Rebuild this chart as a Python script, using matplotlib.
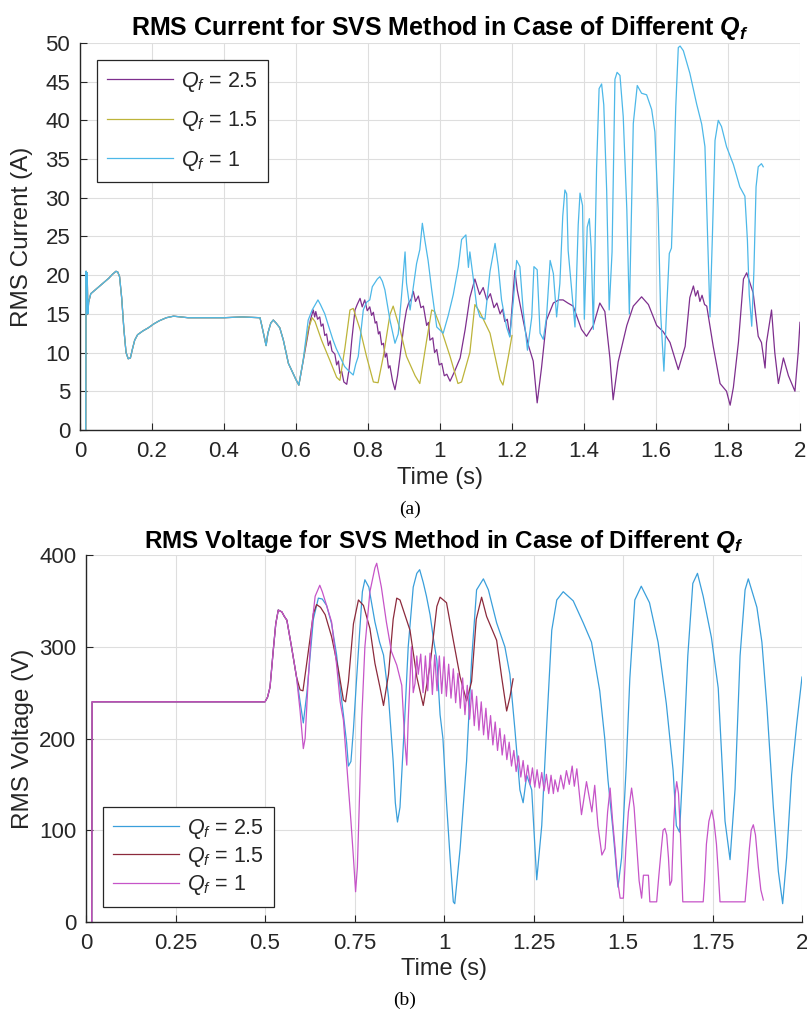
"""
RMS current / RMS voltage for the SVS method with different Q_f values.
Two stacked panels, (a) current and (b) voltage, MATLAB-like styling.
"""

import matplotlib

matplotlib.use("Agg")
import matplotlib.pyplot as plt

# --- Palette ---
INK = "#262626"
GRID = "#dedede"
CUR_COLORS = ["#7e2f8e", "#bdb43a", "#4db8e8"]
VOLT_COLORS = ["#3a9fdb", "#8c2a3c", "#c654c8"]
SERIES_LABELS = ["$Q_f$ = 2.5", "$Q_f$ = 1.5", "$Q_f$ = 1"]

# --- (a) RMS current, shared start (all three Q_f overlap until ~0.61 s) ---
cur_t_common = [
    0.016, 0.017, 0.019, 0.020, 0.022, 0.024, 0.03, 0.04, 0.05, 0.06,
    0.07, 0.08, 0.09, 0.1, 0.105, 0.11, 0.116, 0.122, 0.128, 0.134,
    0.14, 0.146, 0.152, 0.16, 0.175, 0.19, 0.205, 0.22, 0.24, 0.26,
    0.3, 0.35, 0.4, 0.45, 0.5, 0.505, 0.512, 0.517, 0.522, 0.53,
    0.537, 0.545, 0.555, 0.565, 0.579, 0.592, 0.6, 0.608,
]
cur_i_common = [
    0, 20.5, 15, 20.3, 15, 16.5, 17.6, 18, 18.4, 18.8,
    19.2, 19.6, 20.1, 20.5, 20.4, 19.8, 17, 13, 10, 9.2,
    9.3, 10.5, 11.6, 12.3, 12.8, 13.2, 13.7, 14.1, 14.5, 14.7,
    14.5, 14.5, 14.5, 14.6, 14.5, 13.5, 12, 10.9, 12.5, 13.8,
    14.2, 13.8, 13.2, 11.6, 8.6, 7.3, 6.5, 5.8,
]

# Q_f = 2.5
cur_t_q25 = [
    0.63, 0.64, 0.648, 0.652, 0.655, 0.66, 0.666, 0.67, 0.675, 0.68,
    0.685, 0.69, 0.695, 0.7, 0.708, 0.713, 0.718, 0.722, 0.727, 0.733,
    0.741, 0.748, 0.755, 0.76, 0.764, 0.77, 0.778, 0.784, 0.791, 0.798,
    0.805, 0.81, 0.815, 0.82, 0.824, 0.829, 0.833, 0.838, 0.843, 0.848,
    0.852, 0.857, 0.861, 0.868, 0.875, 0.882, 0.889, 0.895, 0.9, 0.907,
    0.913, 0.92, 0.926, 0.932, 0.94, 0.947, 0.954, 0.963, 0.968, 0.972,
    0.98, 0.985, 0.991, 0.998, 1.005, 1.012, 1.019, 1.028,
    1.04, 1.056, 1.07, 1.083, 1.097, 1.11, 1.12, 1.13, 1.14, 1.15,
    1.158, 1.167, 1.174, 1.18, 1.187, 1.194, 1.208, 1.215, 1.231, 1.245,
    1.259, 1.27, 1.282, 1.296, 1.315, 1.33, 1.342, 1.355, 1.37, 1.393,
    1.407, 1.426, 1.444, 1.458, 1.472, 1.481, 1.495, 1.519, 1.537, 1.56,
    1.579, 1.602, 1.62, 1.639, 1.662, 1.681, 1.694, 1.704, 1.71, 1.716,
    1.722, 1.728, 1.735, 1.741, 1.759, 1.778, 1.796, 1.806, 1.815, 1.829,
    1.843, 1.852, 1.87, 1.884, 1.893, 1.903, 1.907, 1.921, 1.93, 1.94,
    1.954, 1.968, 1.986, 1.995, 2.0,
]
cur_i_q25 = [
    11.5, 14.2, 15.5, 14.6, 15.3, 14.3, 14.6, 13.4, 13.7, 12.2,
    12.4, 10.9, 11.5, 10.2, 9.8, 8.4, 8.9, 7.3, 7.6, 6.2,
    5.9, 8.0, 11.6, 13.8, 15.5, 16.2, 17.0, 15.9, 16.8, 15.4,
    15.9, 14.8, 15.2, 13.8, 14.0, 12.4, 12.7, 11.0, 11.2, 9.4,
    9.9, 8.0, 8.3, 6.4, 5.2, 7.0, 9.5, 11.8, 13.6, 15.5,
    16.4, 16.9, 17.9, 16.6, 17.3, 15.8, 16.0, 13.5, 13.9, 11.6,
    11.9, 10.0, 10.4, 8.4, 8.6, 7.0, 7.2, 6.3,
    7.5, 9.3, 13, 17.1, 19.5, 17.5, 18.4, 16.8, 17.6, 15.8,
    16.4, 15, 15.6, 14, 14.3, 12.1, 20.6, 18, 14.2, 11,
    8.9, 3.5, 8, 14.2, 16.4, 16.8, 16.8, 16.4, 16, 13,
    12.1, 13.5, 16.4, 15.3, 9.3, 3.9, 8.8, 13.5, 16, 17.2,
    16.2, 13.5, 12.7, 11.3, 7.8, 10.8, 17.1, 18.6, 17.3, 18.0,
    16.6, 17.4, 16.2, 16, 10.8, 6, 5, 3.2, 5.5, 11.3,
    19.5, 20.3, 17.7, 12.1, 11.3, 8, 11.3, 15.5, 10, 6,
    9.3, 7, 5, 10, 13.9,
]

# Q_f = 1.5
cur_t_q15 = [
    0.62, 0.634, 0.645, 0.653, 0.671, 0.694, 0.713, 0.722, 0.736, 0.75,
    0.759, 0.778, 0.796, 0.815, 0.828, 0.843, 0.861, 0.87, 0.889, 0.907,
    0.931, 0.944, 0.963, 0.977, 0.985, 1.0, 1.028, 1.05, 1.06, 1.083,
    1.097, 1.11, 1.139, 1.167, 1.175, 1.19, 1.2,
]
cur_i_q15 = [
    9, 13, 14.5, 14, 11.6, 9, 6.8, 6.4, 10.6, 15.5,
    15.7, 13, 9.5, 6.2, 6.1, 9.6, 14.9, 16, 13, 9.5,
    7.0, 6.0, 11.6, 15.5, 15.3, 13.5, 9.5, 6.0, 6.2, 10,
    16.2, 15.3, 12.5, 6.5, 5.8, 9.5, 12.2,
]

# Q_f = 1
cur_t_q1 = [
    0.62, 0.634, 0.645, 0.655, 0.661, 0.668, 0.68, 0.69, 0.703, 0.712,
    0.722, 0.735, 0.745, 0.759, 0.766, 0.773, 0.787, 0.796, 0.805, 0.812,
    0.819, 0.826, 0.833, 0.84, 0.847, 0.861, 0.875, 0.884, 0.893, 0.903,
    0.907, 0.917, 0.926, 0.935, 0.944, 0.951, 0.958, 0.967, 0.977, 0.991,
    1.009, 1.023, 1.037, 1.051, 1.06, 1.072, 1.079, 1.083, 1.093, 1.102,
    1.111, 1.125, 1.139, 1.153, 1.162, 1.171, 1.185, 1.194, 1.204, 1.213,
    1.222, 1.231, 1.243, 1.255, 1.261, 1.27, 1.278, 1.287, 1.296, 1.306,
    1.315, 1.324, 1.333, 1.341, 1.347, 1.352, 1.356, 1.366, 1.375, 1.384,
    1.389, 1.396, 1.401, 1.409, 1.415, 1.42, 1.426, 1.435, 1.442, 1.449,
    1.455, 1.463, 1.47, 1.478, 1.486, 1.492, 1.5, 1.509, 1.519, 1.526,
    1.537, 1.548, 1.56, 1.574, 1.588, 1.597, 1.606, 1.613, 1.622, 1.63,
    1.637, 1.643, 1.65, 1.655, 1.662, 1.667, 1.676, 1.694, 1.713, 1.727,
    1.736, 1.742, 1.75, 1.757, 1.764, 1.773, 1.782, 1.796, 1.815, 1.833,
    1.847, 1.854, 1.859, 1.866, 1.872, 1.878, 1.884, 1.893, 1.898,
]
cur_i_q1 = [
    9, 14.2, 15.5, 16.3, 16.8, 16.2, 15, 13.5, 11.6, 10.5,
    9.5, 8.2, 7.7, 7.1, 8.5, 9.5, 15.5, 16.5, 16.8, 18.5,
    19, 19.5, 19.8, 19.2, 18.1, 14.2, 11.2, 12.4, 17.2, 23,
    19, 15.5, 18.5, 21.5, 23.3, 26.7, 24.5, 21.9, 18.1, 13.3,
    12.5, 14.8, 17.5, 21.1, 24.6, 25.2, 21, 23, 19.4, 16,
    14.6, 14.3, 20.5, 24.1, 21.1, 16.8, 13.3, 12, 16.8, 21.9,
    21.1, 15.5, 10.3, 14.6, 21.1, 20.7, 12.5, 11.7, 14.6, 21.9,
    20.2, 14.6, 18.9, 27.6, 31, 30.5, 23.2, 18, 13.3, 26.5,
    30.6, 29, 14.3, 26.2, 27.3, 23.5, 13, 33.8, 44.1, 44.7,
    42, 31, 15.5, 23, 45.3, 46.2, 45.8, 40.5, 28.5, 15,
    39.6, 44.5, 43.5, 43.3, 41.4, 38.5, 28.5, 15, 7.6, 16,
    22.8, 23.5, 33.5, 41.8, 49.4, 49.6, 49, 46.1, 42.1, 39.5,
    36.6, 27, 14.6, 25.5, 37.4, 40, 39.2, 36.6, 34.3, 31.4,
    30.2, 24.5, 17.5, 13.4, 20.5, 31.4, 34, 34.4, 34,
]

# --- (b) RMS voltage, shared start ---
volt_t_common = [0.016, 0.017, 0.5, 0.507, 0.514, 0.523, 0.53, 0.537, 0.547, 0.554, 0.561, 0.574, 0.588]
volt_v_common = [0, 240, 240, 245, 256, 296, 325, 340, 338, 333, 329, 300, 267]

# Q_f = 2.5
volt_t_q25 = [
    0.598, 0.607, 0.617, 0.626, 0.635, 0.649, 0.66, 0.672, 0.686, 0.7,
    0.71, 0.719, 0.728, 0.733, 0.74, 0.747, 0.755, 0.765, 0.772, 0.779,
    0.79, 0.807, 0.82, 0.831, 0.845, 0.858, 0.864, 0.87, 0.877, 0.89,
    0.9, 0.914, 0.924, 0.932, 0.942, 0.951, 0.961, 0.97, 0.98, 0.989,
    0.997, 1.007, 1.017, 1.026, 1.03, 1.045, 1.063, 1.077, 1.091, 1.11,
    1.124, 1.147, 1.17, 1.184, 1.198, 1.212, 1.221, 1.231, 1.245, 1.259,
    1.273, 1.287, 1.301, 1.315, 1.333, 1.361, 1.389, 1.412, 1.435, 1.449,
    1.458, 1.472, 1.486, 1.496, 1.509, 1.519, 1.533, 1.551, 1.574, 1.598,
    1.621, 1.64, 1.649, 1.658, 1.668, 1.681, 1.695, 1.708, 1.724, 1.747,
    1.766, 1.785, 1.799, 1.813, 1.827, 1.841, 1.85, 1.874, 1.888, 1.902,
    1.92, 1.934, 1.946, 1.957, 1.971, 1.985, 2.0,
]
volt_v_q25 = [
    240, 217, 250, 290, 330, 353, 352, 345, 325, 291,
    255, 226, 195, 170, 175, 210, 260, 320, 360, 373,
    365, 327, 305, 291, 245, 175, 130, 109, 125, 220,
    300, 365, 380, 384, 370, 355, 335, 310, 285, 226,
    200, 130, 70, 22, 20, 80, 175, 285, 362, 374,
    362, 326, 300, 270, 210, 144, 130, 160, 144, 46,
    105, 215, 318, 351, 360, 350, 326, 305, 252, 200,
    155, 100, 38, 70, 170, 265, 351, 366, 348, 305,
    238, 165, 105, 98, 175, 290, 369, 380, 355, 310,
    255, 110, 68, 145, 290, 362, 374, 343, 305, 235,
    125, 55, 20, 70, 160, 215, 267,
]

# Q_f = 1.5
volt_t_q15 = [
    0.598, 0.606, 0.621, 0.635, 0.644, 0.655, 0.668, 0.686, 0.705, 0.719,
    0.725, 0.733, 0.747, 0.761, 0.775, 0.793, 0.807, 0.821, 0.831, 0.845,
    0.858, 0.868, 0.877, 0.905, 0.924, 0.942, 0.961, 0.98, 0.989, 1.007,
    1.026, 1.045, 1.063, 1.077, 1.09, 1.105, 1.119, 1.147, 1.161, 1.175,
    1.184, 1.193,
]
volt_v_q15 = [
    253, 252, 295, 336, 346, 343, 335, 311, 275, 242,
    240, 262, 325, 351, 345, 320, 282, 256, 236, 270,
    330, 353, 351, 318, 267, 236, 280, 344, 354, 348,
    307, 267, 241, 262, 330, 354, 333, 307, 267, 230,
    245, 265,
]

# Q_f = 1: swing, fast ripple band, then the collapse after ~1.3 s
volt_t_q1 = [
    0.598, 0.607, 0.612, 0.62, 0.63, 0.64, 0.653, 0.66, 0.672, 0.686,
    0.7, 0.71, 0.719, 0.733, 0.74, 0.747, 0.753, 0.758, 0.765, 0.77,
    0.779, 0.793, 0.807, 0.812, 0.82, 0.825, 0.839, 0.853, 0.868, 0.882,
    0.89, 0.896, 0.9, 0.909, 0.914, 0.919, 0.924, 0.928,
]
volt_v_q1 = [
    230, 189, 200, 260, 320, 355, 367, 360, 345, 327,
    280, 240, 220, 146, 110, 70, 33, 60, 150, 220,
    300, 360, 386, 391, 375, 365, 327, 295, 280, 258,
    200, 171, 220, 300, 250, 260, 290, 270,
]
volt_t_q1_ripple = [
    0.935, 0.9415, 0.948, 0.9545, 0.961, 0.9675, 0.974, 0.9805, 0.987, 0.9935,
    1.0, 1.0065, 1.013, 1.0195, 1.026, 1.0325, 1.039, 1.0455, 1.052, 1.0585,
    1.065, 1.0715, 1.078, 1.0845, 1.091, 1.0975, 1.104, 1.1105, 1.117, 1.1235,
    1.13, 1.1365, 1.143, 1.1495, 1.156, 1.1625, 1.169, 1.1755, 1.182, 1.1885,
    1.195, 1.2015, 1.208, 1.2145, 1.221, 1.2275, 1.234, 1.2405, 1.247, 1.2535,
    1.26, 1.2665, 1.273, 1.2795, 1.286, 1.2925, 1.299, 1.3055,
]
volt_v_q1_ripple = [
    292, 250, 290, 252, 293, 248, 291, 252, 290, 249,
    289, 246, 281, 244, 276, 239, 271, 233, 266, 226,
    258, 221, 253, 214, 246, 209, 240, 204, 233, 199,
    225, 193, 218, 187, 211, 182, 204, 177, 196, 170,
    187, 164, 181, 158, 176, 153, 171, 150, 168, 147,
    166, 146, 163, 143, 161, 140, 160, 140,
]
volt_t_q1_tail = [
    1.31, 1.318, 1.326, 1.334, 1.342, 1.35, 1.358, 1.364, 1.371, 1.384,
    1.398, 1.413, 1.421, 1.43, 1.441, 1.45, 1.457, 1.464, 1.471, 1.478,
    1.485, 1.492, 1.501, 1.508, 1.515, 1.524, 1.531, 1.538, 1.545, 1.552,
    1.557, 1.571, 1.575, 1.594, 1.6, 1.607, 1.612, 1.617, 1.622, 1.627,
    1.631, 1.636, 1.642, 1.646, 1.65, 1.655, 1.66, 1.667, 1.724, 1.728,
    1.733, 1.74, 1.748, 1.754, 1.761, 1.766, 1.771, 1.841, 1.847, 1.853,
    1.858, 1.864, 1.87, 1.878, 1.885, 1.892,
]
volt_v_q1_tail = [
    155, 142, 160, 145, 165, 150, 170, 148, 167, 117,
    153, 120, 149, 105, 73, 80, 120, 146, 110, 80,
    45, 26, 26, 80, 120, 146, 125, 85, 45, 26,
    51, 51, 22, 22, 50, 80, 100, 102, 95, 70,
    40, 45, 110, 140, 153, 140, 100, 22, 22, 45,
    85, 110, 122, 110, 85, 55, 22, 22, 50, 80,
    100, 106, 95, 60, 35, 24,
]

CUR_XTICKS = [0, 0.2, 0.4, 0.6, 0.8, 1.0, 1.2, 1.4, 1.6, 1.8, 2.0]
CUR_XLABELS = ["0", "0.2", "0.4", "0.6", "0.8", "1", "1.2", "1.4", "1.6", "1.8", "2"]
CUR_YTICKS = [0, 5, 10, 15, 20, 25, 30, 35, 40, 45, 50]
VOLT_XTICKS = [0, 0.25, 0.5, 0.75, 1.0, 1.25, 1.5, 1.75, 2.0]
VOLT_XLABELS = ["0", "0.25", "0.5", "0.75", "1", "1.25", "1.5", "1.75", "2"]
VOLT_YTICKS = [0, 100, 200, 300, 400]

plt.rcParams.update(
    {
        "font.family": ["Liberation Sans", "DejaVu Sans"],
        "mathtext.fontset": "custom",
        "mathtext.rm": "Liberation Sans",
        "mathtext.it": "Liberation Sans:italic",
        "mathtext.bf": "Liberation Sans:bold",
        "mathtext.bfit": "Liberation Sans:italic:bold",
        "text.color": INK,
        "axes.labelcolor": INK,
        "axes.edgecolor": INK,
        "xtick.color": INK,
        "ytick.color": INK,
    }
)


def _style_axes(ax, xticks, xlabels, yticks, ylim):
    ax.set_xlim(0, 2)
    ax.set_ylim(*ylim)
    ax.set_xticks(xticks)
    ax.set_xticklabels(xlabels)
    ax.set_yticks(yticks)
    for spine in ("top", "right"):
        ax.spines[spine].set_visible(False)
    for spine in ("left", "bottom"):
        ax.spines[spine].set_linewidth(1.0)
    ax.tick_params(direction="in", length=5, width=0.8, labelsize=16)
    ax.tick_params(axis="x", pad=8)
    ax.tick_params(axis="y", pad=7)
    ax.grid(True, color=GRID, linewidth=0.8)
    ax.set_axisbelow(True)


def _legend(ax, **kw):
    leg = ax.legend(
        borderaxespad=0,
        fontsize=15.5,
        handlelength=3.1,
        handletextpad=0.35,
        borderpad=0.45,
        frameon=True,
        fancybox=False,
        edgecolor=INK,
        framealpha=1,
        **kw,
    )
    leg.get_frame().set_linewidth(0.9)


def panel_current(ax):
    series = [
        (cur_t_q25, cur_i_q25),
        (cur_t_q15, cur_i_q15),
        (cur_t_q1, cur_i_q1),
    ]
    for (t, i), color, label in zip(series, CUR_COLORS, SERIES_LABELS):
        ax.plot(cur_t_common + t, cur_i_common + i, color=color, linewidth=0.9, label=label)

    _style_axes(ax, CUR_XTICKS, CUR_XLABELS, CUR_YTICKS, (0, 50))
    ax.set_title(
        r"RMS Current for SVS Method in Case of Different $\mathbfit{Q_f}$",
        fontsize=18, fontweight="bold", color="black", pad=6,
    )
    ax.set_xlabel("Time (s)", fontsize=17)
    ax.set_ylabel("RMS Current (A)", fontsize=17.5)
    ax.xaxis.set_label_coords(0.5, -0.095)
    ax.yaxis.set_label_coords(-0.065, 0.5)
    _legend(ax, loc="upper left", bbox_to_anchor=(0.0236, 0.956), labelspacing=0.72)


def panel_voltage(ax):
    q1_t = volt_t_q1 + volt_t_q1_ripple + volt_t_q1_tail
    q1_v = volt_v_q1 + volt_v_q1_ripple + volt_v_q1_tail
    series = [
        (volt_t_q25, volt_v_q25),
        (volt_t_q15, volt_v_q15),
        (q1_t, q1_v),
    ]
    for (t, v), color, label in zip(series, VOLT_COLORS, SERIES_LABELS):
        ax.plot(volt_t_common + t, volt_v_common + v, color=color, linewidth=0.9, label=label)

    _style_axes(ax, VOLT_XTICKS, VOLT_XLABELS, VOLT_YTICKS, (0, 400))
    ax.set_title(
        r"RMS Voltage for SVS Method in Case of Different $\mathbfit{Q_f}$",
        fontsize=17.5, fontweight="bold", color="black", pad=5,
    )
    ax.set_xlabel("Time (s)", fontsize=17)
    ax.set_ylabel("RMS Voltage (V)", fontsize=17.5)
    ax.xaxis.set_label_coords(0.5, -0.098)
    ax.yaxis.set_label_coords(-0.0726, 0.5)
    _legend(ax, loc="lower left", bbox_to_anchor=(0.0237, 0.041), labelspacing=0.2)


def main():
    fig = plt.figure(figsize=(8.07, 10.15), dpi=100)
    ax_cur = fig.add_axes([0.0991, 0.5764, 0.8922, 0.3813])
    ax_volt = fig.add_axes([0.1066, 0.0916, 0.8872, 0.3616])

    panel_current(ax_cur)
    panel_voltage(ax_volt)

    caption = dict(ha="center", va="center", fontsize=14, family=["Liberation Serif", "DejaVu Serif"], color="black")
    fig.text(410 / 807, 1 - 509 / 1015, "(a)", **caption)
    fig.text(405 / 807, 1 - 1000 / 1015, "(b)", **caption)

    fig.savefig("out.png", dpi=100, facecolor="white")
    plt.close(fig)


if __name__ == "__main__":
    main()
